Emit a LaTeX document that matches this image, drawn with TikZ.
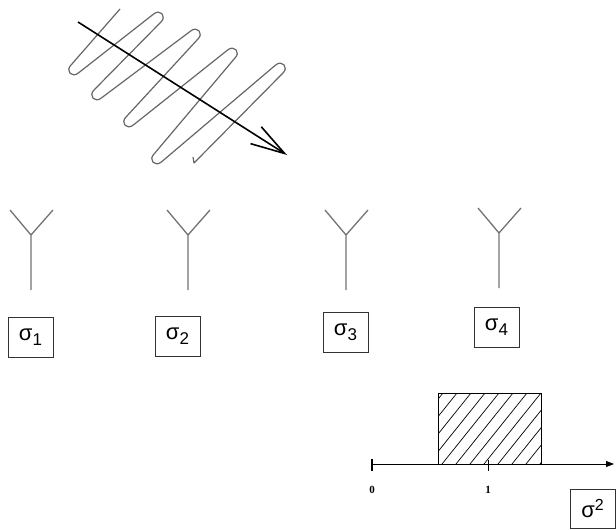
\documentclass[tikz,border=0pt]{standalone}
\usepackage{fontspec}
\setmainfont{Liberation Sans}
\newfontfamily\numfont{Liberation Serif}
\usetikzlibrary{arrows.meta}
\newcommand{\sigsub}[1]{{\fontsize{22}{24}\selectfont σ}\raisebox{-5pt}{\fontsize{17}{18}\selectfont #1}}
\newcommand{\sigsup}[1]{{\fontsize{22}{24}\selectfont σ}\raisebox{7pt}{\fontsize{16}{18}\selectfont #1}}
\begin{document}
\begin{tikzpicture}[x=1pt, y=-1pt,
    sigbox/.style={rectangle, draw=black!80, line width=0.8pt, minimum width=45pt, minimum height=40pt, inner sep=0pt},
    antline/.style={draw=black!55, line width=1.3pt},
    coil/.style={draw=black!60, line width=1.2pt, line join=round},
    kvec/.style={draw, line width=1.6pt, -{Straight Barb[length=34pt, width=20pt]}},
    axis/.style={draw, line width=0.8pt, -{Triangle[length=8pt, width=6pt]}},
    hatchbox/.style={rectangle, draw, line width=0.9pt, minimum width=103pt, minimum height=71pt, inner sep=0pt,
      path picture={\foreach \k in {-4,...,8} \draw[line width=0.7pt] ([xshift=\k*14pt-10pt]path picture bounding box.south west) -- ++(57pt,71pt);}}]
    \useasboundingbox (0,0) rectangle (616,530);

    % incoming wave
    \coordinate (b1) at (69,74);   \coordinate (t1) at (163,13);
    \coordinate (b2) at (92,99);   \coordinate (t2) at (200,30);
    \coordinate (b3) at (124,126); \coordinate (t3) at (237,49);
    \coordinate (b4) at (152,163); \coordinate (t4) at (285,64);
    \coordinate (wstart) at (120,9);
    \coordinate (wend) at (194,163);
    \draw[coil] (wstart) \foreach \b/\t in {b1/t1,b2/t2,b3/t3,b4/t4} {
        -- ([shift={(2.4,-9.4)}]\b) .. controls +(-6.75,5.94) and +(-6.75,5.94) .. ([shift={(9.6,-1.2)}]\b)
        -- ([shift={(-9.6,1.2)}]\t) .. controls +(6.75,-5.94) and +(6.75,-5.94) .. ([shift={(-2.4,9.4)}]\t)}
      -- (wend) -- ++(-1,-6);
    \coordinate (ktail) at (78,22);
    \coordinate (khead) at (287,155);
    \path [kvec] (ktail) -- (khead);

    % antennas
    \coordinate (j1) at (31,235);
    \coordinate (j2) at (188,235);
    \coordinate (j3) at (346,235);
    \coordinate (j4) at (499,233);
    \foreach \j in {j1,j2,j3,j4}
      \path [antline] (\j) -- ++(0,55) (\j) -- ++(-21,-25) (\j) -- ++(22,-25);

    \node [sigbox] (s1) at (30.5,337) {\sigsub{1}};
    \node [sigbox] (s2) at (177.5,336) {\sigsub{2}};
    \node [sigbox] (s3) at (345.5,332.5) {\sigsub{3}};
    \node [sigbox] (s4) at (496.5,327.5) {\sigsub{4}};

    % distribution of sigma^2
    \coordinate (orig) at (372,464);
    \coordinate (axend) at (614,464);
    \node [hatchbox] (band) at (489.5,428.5) {};
    \path [axis] (orig) -- (axend);
    \draw[line width=1.4pt] (orig) ++(0,-5) -- ++(0,12);
    \draw[line width=0.8pt] (488,460) -- (488,471);
    \node [font=\numfont\bfseries\fontsize{11}{12}\selectfont] (zero) at (372,490) {0};
    \node [font=\numfont\bfseries\fontsize{11}{12}\selectfont] (one) at (488,490) {1};
    \node [sigbox, minimum width=45pt, minimum height=39pt] (svar) at (592.5,508.5) {\sigsup{2}};
\end{tikzpicture}
\end{document}
